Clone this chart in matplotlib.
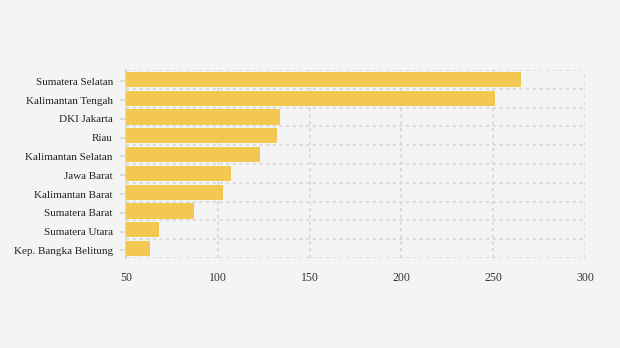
import numpy as np
import matplotlib.pyplot as plt

# provinces, top to bottom
provinces = ["Sumatera Selatan", "Kalimantan Tengah", "DKI Jakarta", "Riau",
             "Kalimantan Selatan", "Jawa Barat", "Kalimantan Barat",
             "Sumatera Barat", "Sumatera Utara", "Kep. Bangka Belitung"]
values = [265, 251, 134, 132, 123, 107, 103, 87, 68, 63]
x_ticks = [50, 100, 150, 200, 250, 300]

plt.rcParams['font.family'] = ['Liberation Serif', 'DejaVu Serif']

fig = plt.figure(figsize=(6.2, 3.48), dpi=100)
fig.patch.set_facecolor('#f4f4f4')
ax = fig.add_axes([126 / 620, 1 - 258 / 348, (585 - 126) / 620, (258 - 70) / 348])
ax.set_facecolor('#f4f4f4')

y = np.arange(len(provinces))
ax.barh(y, values, height=0.8, color='#f2c852', zorder=3)

ax.set_xlim(50, 300)
ax.set_ylim(len(provinces) - 0.5, -0.5)
ax.set_xticks(x_ticks)
ax.set_xticklabels([str(t) for t in x_ticks])
# labels sit a touch below the bar centres
ax.set_yticks(y + 0.1)
ax.set_yticklabels(provinces, va='center_baseline')
ax.set_yticks(np.arange(-0.5, len(provinces), 1), minor=True)

# dotted grid
ax.grid(axis='x', which='major', color='#d8d8d8', linestyle=(0, (2, 2)), linewidth=1.2, zorder=0)
ax.grid(axis='y', which='minor', color='#d8d8d8', linestyle=(0, (2, 2)), linewidth=1.2, zorder=0)
ax.grid(axis='y', which='major', visible=False)

for s in ['top', 'right', 'bottom']:
    ax.spines[s].set_visible(False)
ax.spines['left'].set_color('#d8d8d8')
ax.spines['left'].set_linewidth(1.2)

ax.tick_params(axis='x', length=0, pad=10, labelsize=8.5, labelcolor='#333333')
ax.tick_params(axis='y', which='major', length=4, width=1.2, color='#d8d8d8',
               pad=5.5, labelsize=8, labelcolor='#222222')
ax.tick_params(axis='y', which='minor', length=0)

fig.savefig('out.png', dpi=100, facecolor=fig.get_facecolor())
